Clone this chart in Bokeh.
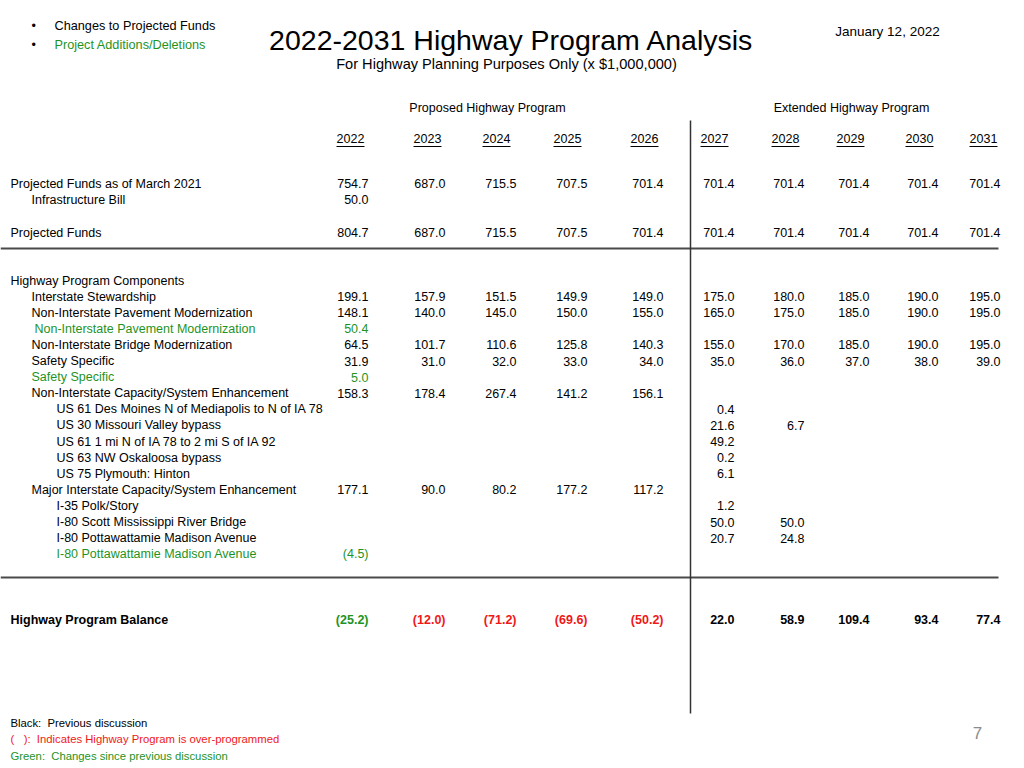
from bokeh.plotting import figure
from bokeh.models import ColumnDataSource, Range1d
from bokeh.core.properties import value
from bokeh.embed import file_html
from bokeh.resources import INLINE

# ---------------- data ----------------
years = ["2022", "2023", "2024", "2025", "2026", "2027", "2028", "2029", "2030", "2031"]
group_labels = ["Proposed Highway Program", "Extended Highway Program"]

title = "2022-2031 Highway Program Analysis"
subtitle = "For Highway Planning Purposes Only (x $1,000,000)"
date_text = "January 12, 2022"
bullets = ["Changes to Projected Funds", "Project Additions/Deletions"]
bullet_kinds = ["black", "green"]

funds_labels = ["Projected Funds as of March 2021", "Infrastructure Bill", "Projected Funds"]
funds_levels = [0, 1, 0]
funds_march_2021 = [754.7, 687.0, 715.5, 707.5, 701.4, 701.4, 701.4, 701.4, 701.4, 701.4]
infrastructure_bill = [50.0, None, None, None, None, None, None, None, None, None]
projected_funds = [804.7, 687.0, 715.5, 707.5, 701.4, 701.4, 701.4, 701.4, 701.4, 701.4]

component_labels = [
    "Highway Program Components",
    "Interstate Stewardship",
    "Non-Interstate Pavement Modernization",
    "Non-Interstate Pavement Modernization",
    "Non-Interstate Bridge Modernization",
    "Safety Specific",
    "Safety Specific",
    "Non-Interstate Capacity/System Enhancement",
    "US 61 Des Moines N of Mediapolis to N of IA 78",
    "US 30 Missouri Valley bypass",
    "US 61 1 mi N of IA 78 to 2 mi S of IA 92",
    "US 63 NW Oskaloosa bypass",
    "US 75 Plymouth: Hinton",
    "Major Interstate Capacity/System Enhancement",
    "I-35 Polk/Story",
    "I-80 Scott Mississippi River Bridge",
    "I-80 Pottawattamie Madison Avenue",
    "I-80 Pottawattamie Madison Avenue",
]
component_levels = [0, 1, 1, 1, 1, 1, 1, 1, 2, 2, 2, 2, 2, 1, 2, 2, 2, 2]
component_green = [False, False, False, True, False, False, True, False,
                   False, False, False, False, False, False, False, False, False, True]

N = None
highway_components = [N] * 10
interstate_stewardship = [199.1, 157.9, 151.5, 149.9, 149.0, 175.0, 180.0, 185.0, 190.0, 195.0]
pavement_modernization = [148.1, 140.0, 145.0, 150.0, 155.0, 165.0, 175.0, 185.0, 190.0, 195.0]
pavement_modernization_change = [50.4, N, N, N, N, N, N, N, N, N]
bridge_modernization = [64.5, 101.7, 110.6, 125.8, 140.3, 155.0, 170.0, 185.0, 190.0, 195.0]
safety_specific = [31.9, 31.0, 32.0, 33.0, 34.0, 35.0, 36.0, 37.0, 38.0, 39.0]
safety_specific_change = [5.0, N, N, N, N, N, N, N, N, N]
non_interstate_capacity = [158.3, 178.4, 267.4, 141.2, 156.1, N, N, N, N, N]
us61_mediapolis = [N, N, N, N, N, 0.4, N, N, N, N]
us30_missouri_valley = [N, N, N, N, N, 21.6, 6.7, N, N, N]
us61_ia78_ia92 = [N, N, N, N, N, 49.2, N, N, N, N]
us63_oskaloosa = [N, N, N, N, N, 0.2, N, N, N, N]
us75_plymouth = [N, N, N, N, N, 6.1, N, N, N, N]
major_interstate_capacity = [177.1, 90.0, 80.2, 177.2, 117.2, N, N, N, N, N]
i35_polk_story = [N, N, N, N, N, 1.2, N, N, N, N]
i80_scott_bridge = [N, N, N, N, N, 50.0, 50.0, N, N, N]
i80_madison_ave = [N, N, N, N, N, 20.7, 24.8, N, N, N]
i80_madison_ave_change = [-4.5, N, N, N, N, N, N, N, N, N]

balance_label = "Highway Program Balance"
program_balance = [-25.2, -12.0, -71.2, -69.6, -50.2, 22.0, 58.9, 109.4, 93.4, 77.4]
balance_changed = [True, False, False, False, False, False, False, False, False, False]

notes = ["Black:\u00a0 Previous discussion",
         "(\u00a0\u00a0 ):\u00a0 Indicates Highway Program is over-programmed",
         "Green:\u00a0 Changes since previous discussion"]
note_kinds = ["black", "red", "green"]
page_number = "7"

funds_rows = [funds_march_2021, infrastructure_bill, projected_funds]
component_rows = [highway_components, interstate_stewardship, pavement_modernization,
                  pavement_modernization_change, bridge_modernization, safety_specific,
                  safety_specific_change, non_interstate_capacity, us61_mediapolis,
                  us30_missouri_valley, us61_ia78_ia92, us63_oskaloosa, us75_plymouth,
                  major_interstate_capacity, i35_polk_story, i80_scott_bridge,
                  i80_madison_ave, i80_madison_ave_change]

# ---------------- layout / style ----------------
FONT = value("Liberation Sans")
BLACK = "#000000"
GREEN = "#1f931f"
RED = "#f01818"
KIND = {"black": BLACK, "green": GREEN, "red": RED}
col_right = [368, 445, 516, 587, 663, 734, 804, 869, 938, 1000]
col_center = [350, 427, 496, 567, 644, 714, 785, 850, 919, 983]
indent = {0: 10, 1: 31, 2: 56}
funds_y = [183, 199, 232]
comp_y0, comp_dy = 280, 16.1
balance_y = 619


def fmt(v):
    return "(%.1f)" % (-v) if v < 0 else "%.1f" % v


p = figure(width=1024, height=768, output_backend="svg", toolbar_location=None,
           x_range=Range1d(0, 1024), y_range=Range1d(768, 0),
           x_axis_type=None, y_axis_type=None, min_border=0,
           outline_line_color=None)
p.xgrid.visible = False
p.ygrid.visible = False

left = dict(x=[], y=[], text=[], color=[], size=[])
right = dict(x=[], y=[], text=[], color=[], size=[])
center = dict(x=[], y=[], text=[], color=[], size=[])
bold_l = dict(x=[], y=[], text=[], color=[], size=[])
bold_r = dict(x=[], y=[], text=[], color=[], size=[])


def add(d, x, y, t, c, s="12.5px"):
    d["x"].append(x); d["y"].append(y); d["text"].append(t)
    d["color"].append(c); d["size"].append(s)


# header
add(center, 511, 39, title, BLACK, "28.5px")
add(center, 506, 63, subtitle, BLACK, "14.6px")
add(center, 887, 31, date_text, BLACK, "13.5px")
for i, (b, k) in enumerate(zip(bullets, bullet_kinds)):
    add(left, 31, 25 + 19 * i, "\u2022", BLACK, "12.5px")
    add(left, 54, 25 + 19 * i, b, KIND[k], "12.7px")

add(center, 487, 107, group_labels[0], BLACK)
add(center, 851, 107, group_labels[1], BLACK)
for yr, cx in zip(years, col_center):
    add(center, cx, 138, yr, BLACK)

# funds
for lab, lev, vals, y in zip(funds_labels, funds_levels, funds_rows, funds_y):
    add(left, indent[lev], y, lab, BLACK)
    for v, rx in zip(vals, col_right):
        if v is not None:
            add(right, rx, y, fmt(v), BLACK)

# components
for i, (lab, lev, g, vals) in enumerate(zip(component_labels, component_levels,
                                            component_green, component_rows)):
    y = comp_y0 + comp_dy * i
    c = GREEN if g else BLACK
    x0 = indent[lev] + (3 if (g and lev == 1 and i == 3) else 0)
    add(left, x0, y, lab, c)
    for v, rx in zip(vals, col_right):
        if v is not None:
            add(right, rx, y, fmt(v), c)

# balance
add(bold_l, 10, balance_y, balance_label, BLACK)
for v, ch, rx in zip(program_balance, balance_changed, col_right):
    c = GREEN if ch else (RED if v < 0 else BLACK)
    add(bold_r, rx, balance_y, fmt(v), c)

# notes
for i, (n, k) in enumerate(zip(notes, note_kinds)):
    add(left, 10, 722 + 16.5 * i, n, KIND[k], "11.3px")
add(center, 977, 732, page_number, "#8c8c8c", "17px")

for d, align, style in [(left, "left", "normal"), (right, "right", "normal"),
                        (center, "center", "normal"), (bold_l, "left", "bold"),
                        (bold_r, "right", "bold")]:
    p.text(x="x", y="y", text="text", source=ColumnDataSource(d),
           text_color="color", text_font_size="size", text_font=FONT,
           text_align=align, text_baseline="middle", text_font_style=style)

# year underlines
p.segment(x0=[c - 14 for c in col_center], x1=[c + 14 for c in col_center],
          y0=[146] * len(col_center), y1=[146] * len(col_center),
          line_color=BLACK, line_width=1)

# rules
p.segment(x0=[0, 0], x1=[998, 998], y0=[248, 577], y1=[248, 577],
          line_color="#4a4a4a", line_width=2)
p.segment(x0=[690], x1=[690], y0=[120], y1=[713], line_color="#333333", line_width=1.5)

open("out.html", "w").write(file_html(p, INLINE))
